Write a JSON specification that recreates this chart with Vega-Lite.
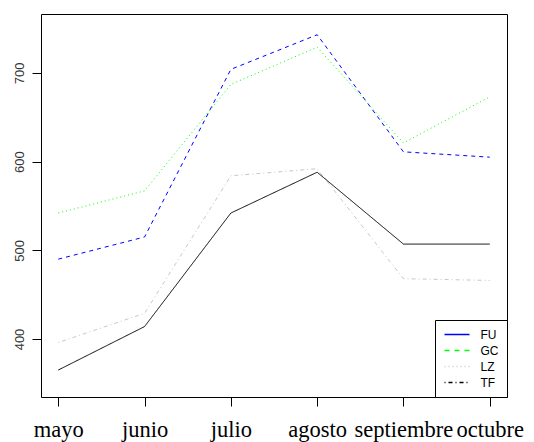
{
  "$schema": "https://vega.github.io/schema/vega-lite/v6.json",
  "width": 466,
  "height": 383,
  "autosize": "none",
  "padding": {"left": 41, "top": 14, "right": 27, "bottom": 45},
  "background": "white",
  "config": {
    "view": {"stroke": "black", "strokeWidth": 1},
    "axis": {"grid": false, "domain": false, "tickColor": "black", "tickWidth": 1, "tickSize": 9, "title": null}
  },
  "data": {
    "values": [
      {"mes": "mayo", "isla": "FU", "valor": 490},
      {"mes": "junio", "isla": "FU", "valor": 515},
      {"mes": "julio", "isla": "FU", "valor": 704},
      {"mes": "agosto", "isla": "FU", "valor": 743},
      {"mes": "septiembre", "isla": "FU", "valor": 611},
      {"mes": "octubre", "isla": "FU", "valor": 605},
      {"mes": "mayo", "isla": "GC", "valor": 542},
      {"mes": "junio", "isla": "GC", "valor": 567},
      {"mes": "julio", "isla": "GC", "valor": 687},
      {"mes": "agosto", "isla": "GC", "valor": 729},
      {"mes": "septiembre", "isla": "GC", "valor": 621},
      {"mes": "octubre", "isla": "GC", "valor": 673},
      {"mes": "mayo", "isla": "LZ", "valor": 396},
      {"mes": "junio", "isla": "LZ", "valor": 429},
      {"mes": "julio", "isla": "LZ", "valor": 584},
      {"mes": "agosto", "isla": "LZ", "valor": 592},
      {"mes": "septiembre", "isla": "LZ", "valor": 468},
      {"mes": "octubre", "isla": "LZ", "valor": 466},
      {"mes": "mayo", "isla": "TF", "valor": 365},
      {"mes": "junio", "isla": "TF", "valor": 414},
      {"mes": "julio", "isla": "TF", "valor": 542},
      {"mes": "agosto", "isla": "TF", "valor": 588},
      {"mes": "septiembre", "isla": "TF", "valor": 507},
      {"mes": "octubre", "isla": "TF", "valor": 507}
    ]
  },
  "encoding": {
    "x": {
      "field": "mes",
      "type": "ordinal",
      "scale": {"type": "point", "padding": 0.2, "domain": ["mayo", "junio", "julio", "agosto", "septiembre", "octubre"]},
      "axis": {"labelAngle": 0, "labelFont": "Liberation Serif", "labelFontSize": 22.5, "labelColor": "black", "labelPadding": 30, "labelBaseline": "alphabetic"}
    },
    "y": {
      "field": "valor",
      "type": "quantitative",
      "scale": {"domain": [334.6, 766.4], "nice": false, "zero": false},
      "axis": {"values": [400, 500, 600, 700], "labelAngle": -90, "labelAlign": "center", "labelBaseline": "alphabetic", "labelFont": "Liberation Sans", "labelFontSize": 13, "labelColor": "#333", "labelPadding": 9}
    }
  },
  "layer": [
    {
      "transform": [{"filter": "datum.valor < 0"}],
      "mark": {"type": "line", "strokeWidth": 1},
      "encoding": {
        "color": {
          "field": "isla",
          "type": "nominal",
          "scale": {"domain": ["FU", "GC", "LZ", "TF"], "range": ["#0000ff", "#00ff00", "#c8c8c8", "#000000"]},
          "legend": {
            "title": null,
            "orient": "bottom-right",
            "offset": 0,
            "strokeColor": "black",
            "fillColor": "white",
            "padding": 8.5,
            "symbolType": "stroke",
            "symbolSize": 625,
            "symbolStrokeWidth": 1.5,
            "symbolDash": {"expr": "datum.value === 'GC' ? [5,5] : datum.value === 'LZ' ? [1,3] : datum.value === 'TF' ? [1,3,4,3] : [1,0]"},
            "clipHeight": 12,
            "labelFont": "Liberation Sans",
            "labelFontSize": 12,
            "labelColor": "black",
            "labelOffset": 10,
            "rowPadding": 4,
            "cornerRadius": 0
          }
        }
      }
    },
    {
      "mark": {"type": "line", "strokeWidth": 1},
      "encoding": {
        "stroke": {
          "field": "isla",
          "type": "nominal",
          "scale": {"domain": ["FU", "GC", "LZ", "TF"], "range": ["#0000ff", "#00ff00", "#c8c8c8", "#000000"]},
          "legend": null
        },
        "strokeDash": {
          "field": "isla",
          "type": "nominal",
          "scale": {"domain": ["FU", "GC", "LZ", "TF"], "range": [[4, 4], [1, 3], [1, 3, 4, 3], [1, 0]]},
          "legend": null
        }
      }
    }
  ],
  "resolve": {"scale": {"strokeDash": "independent", "stroke": "independent"}}
}
